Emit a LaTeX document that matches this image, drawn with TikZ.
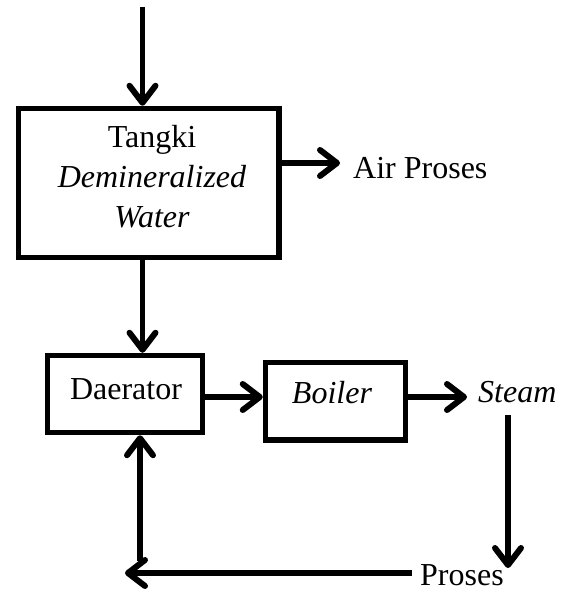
\documentclass[tikz,border=0pt]{standalone}
\usepackage{fontspec}
\setmainfont{Liberation Serif}
\usetikzlibrary{arrows.meta}
\begin{document}
\begin{tikzpicture}[x=1pt,y=-1pt,
  flow/.style={line width=5.5pt,-{Straight Barb[length=17pt,width=26pt,line width=6pt,line cap=round,line join=round]}},
  unit/.style={draw,line width=5.5pt,rectangle,inner sep=0pt},
  lbl/.style={inner sep=0pt,font=\fontsize{32pt}{40pt}\selectfont},
]
\useasboundingbox (0,0) rectangle (564,591);

% process units
\node[unit,minimum width=260.5pt,minimum height=149pt] (tank) at (148.75,183) {};
\node[unit,minimum width=155pt,minimum height=77pt] (daer) at (125,394) {};
\node[unit,minimum width=140pt,minimum height=77.5pt] (boil) at (335.5,401.25) {};

% labels (a multi-line node sits on the baseline of its last line)
\node[lbl,align=center,anchor=base] (tanktxt) at (152,227) {Tangki\\\textit{Demineralized}\\\textit{Water}};
\node[lbl,anchor=base] (daertxt) at (126,399) {Daerator};
\node[lbl,anchor=base] (boiltxt) at (332,403) {\textit{Boiler}};
\node[lbl,anchor=base west] (air) at (353,178) {Air Proses};
\node[lbl,anchor=base west] (steam) at (478,402) {\textit{Steam}};
\node[lbl,anchor=base west] (proses) at (420,585) {Proses};

% helper points
\coordinate (feed) at (142.5,7);
\coordinate (airend) at (340,163);
\coordinate (mainline) at (0,397);
\coordinate (steamend) at (467,397);
\coordinate (downtop) at (508,415);
\coordinate (downend) at (508,568);
\coordinate (retstart) at (412,573);
\coordinate (retend) at (125,573);
\coordinate (upstart) at (140,561);

% connectors
\draw[flow] (feed) -- (feed |- tank.north);
\draw[flow] (airend -| tank.east) -- (airend);
\draw[flow] (tank.south -| feed) -- (daer.north -| feed);
\draw[flow] (daer.east |- mainline) -- (boil.west |- mainline);
\draw[flow] (boil.east |- mainline) -- (steamend);
\draw[flow] (downtop) -- (downend);
\draw[flow] (retstart) -- (retend);
\draw[flow] (upstart) -- (upstart |- daer.south);
\end{tikzpicture}
\end{document}
